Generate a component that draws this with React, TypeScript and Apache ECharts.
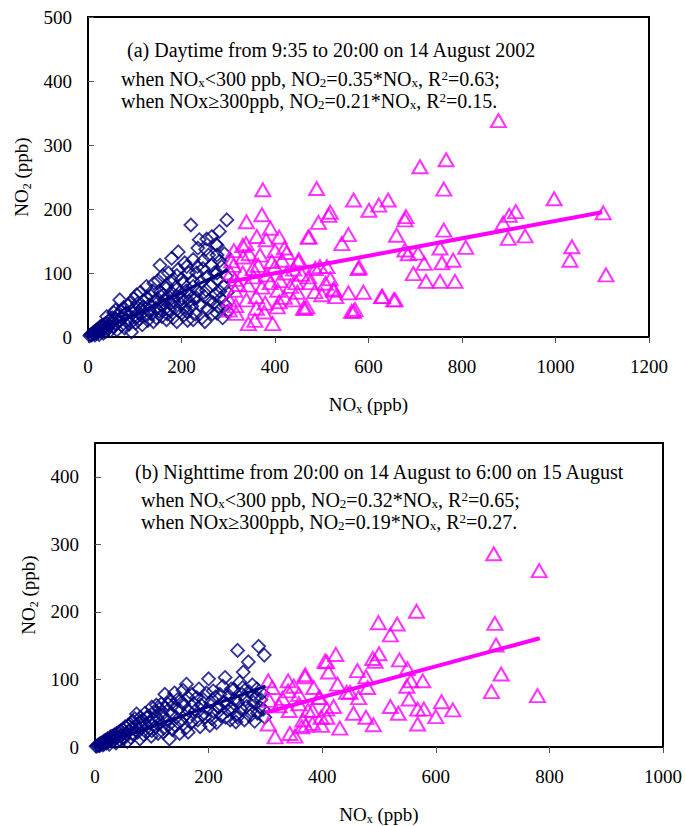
import React, { useEffect, useRef } from 'react';
import * as echarts from 'echarts';

const FONT = 'Liberation Serif, Times New Roman, serif';

// ---- (a) Daytime: NOx < 300 ppb (diamonds) [NOx, NO2]
const dayLow: number[][] = [
  [4,2],[6,4],[8,3],[10,6],[12,5],[14,8],[15,3],[17,10],[18,6],[20,12],[22,8],[24,4],[25,14],[26,16],[28,10],[30,18],[32,12],[33,6],[35,20],[36,15],[38,9],[40,32],[40,22],[42,14],[45,26],[46,18],[48,10],[50,24],[52,30],[54,16],[55,38],[58,20],[59,42],[60,28],[62,11],[64,34],[66,24],[68,58],[70,40],[72,18],[74,30],[76,46],[78,14],[80,36],[81,37],[84,26],[86,50],[88,20],[90,53],[92,40],[93,8],[95,30],[98,60],[100,45],[102,22],[104,66],[104,32],[106,52],[108,38],[110,28],[112,70],[114,44],[116,19],[118,47],[120,56],[122,34],[125,79],[126,62],[128,26],[130,42],[132,50],[135,64],[136,36],[138,72],[140,24],[141,84],[143,54],[145,45],[146,30],[148,60],[150,88],[152,40],[154,112],[155,70],[157,50],[158,32],[160,96],[161,66],[163,58],[165,44],[167,76],[168,81],[168,27],[170,36],[172,100],[174,62],[175,42],[176,52],[178,70],[179,123],[180,88],[182,30],[184,56],[186,46],[188,78],[190,96],[190,64],[190,24],[192,105],[193,133],[195,40],[197,70],[198,52],[200,90],[202,60],[204,84],[205,34],[207,116],[208,46],[210,72],[211,110],[211,40],[213,26],[215,100],[216,56],[218,64],[220,175],[222,48],[224,88],[225,121],[225,79],[225,27],[228,60],[230,36],[232,100],[232,61],[234,110],[235,139],[236,72],[238,152],[240,50],[242,86],[244,30],[246,107],[247,120],[248,64],[250,24],[252,137],[253,73],[254,153],[255,94],[256,44],[258,128],[260,58],[262,80],[264,112],[265,157],[266,36],[268,53],[270,100],[272,66],[274,145],[276,143],[276,128],[276,100],[276,37],[278,90],[280,48],[281,165],[282,119],[282,71],[284,60],[286,110],[288,30],[290,80],[292,130],[294,50],[296,95],[297,183],[298,70],[298,40]
];

// ---- (a) Daytime: NOx >= 300 ppb (triangles)
const dayHigh: number[][] = [
  [878,338],[766,277],[710,266],[761,231],[489,232],[374,230],[568,214],[601,198],[622,206],[642,214],[518,195],[515,190],[493,179],[372,191],[339,180],[471,156],[557,160],[543,146],[680,188],[678,183],[660,159],[761,167],[997,216],[915,196],[901,190],[888,178],[1102,194],[899,154],[935,158],[678,136],[685,130],[706,131],[753,139],[808,140],[1035,141],[1031,120],[1108,97],[719,115],[757,116],[781,120],[696,99],[723,87],[753,87],[785,87],[580,109],[511,110],[496,110],[525,75],[518,91],[557,69],[589,70],[630,63],[657,58],[568,40],[571,43],[500,66],[485,71],[468,47],[461,45],[475,85],
  [361,157],[409,156],[381,152],[338,146],[331,143],[473,156],[420,139],[425,132],[332,125],[311,112],[307,119],[368,128],[393,118],[400,110],[450,118],[486,107],[578,107],[331,100],[354,94],[382,97],[425,100],[457,98],[472,94],[314,90],[314,73],[343,81],[372,78],[406,73],[433,79],[526,73],[628,63],[654,58],[302,58],[316,49],[339,58],[360,63],[379,53],[409,55],[439,58],[464,45],[302,42],[317,37],[343,21],[357,26],[395,21],[405,47],[377,39],[564,40],[411,88],[440,106],[400,135],[451,121],[353,107],[508,84],[530,63],
  [312,135],[305,100],[322,82],[345,130],[390,170],[364,112],[415,120],[445,85],[390,85],[360,45],[420,62],[448,70]
];

// ---- (a) regression lines
const dayLowFit: number[][] = [[0, 0], [300, 105]];
const dayHighFit: number[][] = [[300, 86], [1100, 195]];

// ---- (b) Nighttime: NOx < 300 ppb (diamonds)
const nightLow: number[][] = [
  [2,1],[4,2],[6,3],[8,2],[9,5],[10,4],[12,6],[14,3],[15,8],[16,5],[18,10],[20,6],[22,12],[24,8],[25,4],[27,15],[28,11],[30,16],[32,9],[34,18],[35,13],[37,6],[38,20],[40,15],[42,22],[44,10],[45,24],[47,17],[49,26],[50,12],[51,15],[53,30],[55,20],[57,8],[58,32],[60,24],[62,34],[63,14],[65,28],[67,38],[68,19],[70,42],[72,30],[73,49],[75,22],[77,36],[79,12],[80,44],[82,29],[84,40],[86,18],[88,50],[90,33],[91,44],[93,24],[95,46],[97,36],[99,16],[100,59],[100,24],[102,40],[104,52],[106,30],[108,62],[109,44],[111,20],[113,56],[115,36],[117,64],[118,48],[120,22],[121,28],[123,78],[124,58],[126,40],[128,64],[129,32],[131,12],[132,70],[134,50],[136,26],[138,62],[140,80],[141,32],[143,44],[145,70],[147,56],[149,20],[151,38],[153,66],[155,84],[156,64],[158,46],[160,28],[161,93],[163,74],[164,22],[165,54],[167,44],[169,36],[171,78],[174,64],[177,54],[179,73],[181,40],[183,86],[185,30],[187,62],[189,48],[191,70],[194,44],[196,80],[198,56],[200,101],[202,32],[204,66],[206,42],[208,83],[210,52],[212,74],[214,36],[216,60],[218,59],[220,78],[222,46],[225,90],[227,66],[229,103],[230,44],[232,64],[234,54],[236,76],[238,40],[240,86],[242,58],[244,85],[246,70],[248,37],[250,48],[251,143],[251,44],[252,66],[255,96],[257,56],[259,78],[260,88],[261,111],[263,40],[265,70],[267,60],[270,126],[271,82],[273,46],[275,54],[277,92],[279,66],[281,38],[283,74],[285,86],[286,50],[288,149],[290,59],[292,70],[294,80],[296,56],[298,136],[299,44]
];

// ---- (b) Nighttime: NOx >= 300 ppb (triangles)
const nightHigh: number[][] = [
  [702,286],[782,261],[566,201],[499,184],[532,182],[520,166],[704,183],[706,151],[715,108],[698,82],[779,76],[424,137],[408,126],[411,111],[370,107],[493,127],[489,131],[536,129],[550,116],[462,113],[477,104],[556,98],[577,98],[549,90],[427,93],[449,81],[464,73],[553,71],[568,56],[579,56],[610,67],[630,55],[534,50],[477,44],[490,33],[568,34],[431,28],[408,56],[408,44],[399,32],[375,54],[371,32],[352,16],[396,73],[443,81],[500,138],
  [305,98],[340,98],[370,104],[405,127],[340,83],[359,78],[307,69],[324,61],[342,54],[359,64],[383,54],[394,73],[366,40],[383,35],[317,15],[343,20],[364,30],[398,44],[305,34],
  [312,88],[330,72],[350,90],[385,88],[420,60],[455,50],[480,88],[520,60],[600,45]
];

// ---- (b) regression lines
const nightLowFit: number[][] = [[0, 0], [300, 90]];
const nightHighFit: number[][] = [[300, 51], [783, 161]];

// ---- annotation texts (rich-text markup: n normal, s subscript, p superscript)
const dayTexts: string[] = [
  '{n|(a) Daytime from 9:35 to 20:00 on 14 August 2002}',
  '{n|when NO}{s|x}{n|<300 ppb, NO}{s|2}{n|=0.35*NO}{s|x}{n|, R}{p|2}{n|=0.63;}',
  '{n|when NOx≥300ppb, NO}{s|2}{n|=0.21*NO}{s|x}{n|, R}{p|2}{n|=0.15.}',
];
const nightTexts: string[] = [
  '{n|(b) Nighttime from 20:00 on 14 August to 6:00 on 15 August}',
  '{n|when NO}{s|x}{n|<300 ppb, NO}{s|2}{n|=0.32*NO}{s|x}{n|, R}{p|2}{n|=0.65;}',
  '{n|when NOx≥300ppb, NO}{s|2}{n|=0.19*NO}{s|x}{n|, R}{p|2}{n|=0.27.}',
];
const xName = '{n|NO}{s|x}{n| (ppb)}';
const yName = '{n|NO}{s|2}{n| (ppb)}';

const base = { fontFamily: FONT, fontWeight: 'normal', color: '#000' };
const richText = {
  n: { ...base, fontSize: 20, lineHeight: 20 },
  s: { ...base, fontSize: 13, lineHeight: 10, verticalAlign: 'bottom' },
  p: { ...base, fontSize: 13, lineHeight: 12, verticalAlign: 'top' },
};
const richAxis = {
  n: { ...base, fontSize: 19, lineHeight: 22 },
  s: { ...base, fontSize: 12, lineHeight: 12, verticalAlign: 'bottom' },
};

function makeTitles(lines: string[], lefts: number[], tops: number[]) {
  return lines.map((t, i) => ({
    text: t,
    left: lefts[i],
    top: tops[i],
    padding: 0,
    textStyle: { ...base, fontSize: 20, rich: richText },
  }));
}

const tickFmt = (v: number) => String(v);

function xAxisCfg(gridIndex: number, max: number) {
  return {
    type: 'value', gridIndex, min: 0, max, interval: 200,
    name: xName, nameLocation: 'middle', nameGap: 56,
    nameTextStyle: { ...base, fontSize: 19, rich: richAxis },
    axisLine: { show: true, lineStyle: { color: '#000', width: 2 } },
    axisTick: { show: true, inside: false, length: 6, lineStyle: { color: '#555', width: 1 } },
    axisLabel: { margin: 20, fontSize: 19, fontFamily: FONT, color: '#000', formatter: tickFmt },
    splitLine: { show: false },
  };
}
function yAxisCfg(gridIndex: number, max: number, showMax: boolean) {
  return {
    type: 'value', gridIndex, min: 0, max, interval: 100,
    name: yName, nameLocation: 'middle', nameGap: 55, nameRotate: 90,
    nameTextStyle: { ...base, fontSize: 19, rich: richAxis },
    axisLine: { show: true, lineStyle: { color: '#000', width: 2 } },
    axisTick: { show: true, inside: true, length: 6, lineStyle: { color: '#555', width: 1 } },
    axisLabel: { margin: 16, fontSize: 19, fontFamily: FONT, color: '#000', showMaxLabel: showMax, formatter: tickFmt },
    splitLine: { show: false },
  };
}

const diamondStyle = { color: 'rgba(0,0,0,0)', borderColor: '#000080', borderWidth: 1.8 };
const triStyle = { color: 'rgba(0,0,0,0)', borderColor: '#FF00FF', borderWidth: 2 };

const option = {
  animation: false,
  backgroundColor: '#fff',
  title: [
    ...makeTitles(dayTexts, [127, 121, 121], [40, 69, 91]),
    ...makeTitles(nightTexts, [135, 141, 141], [462, 490, 512]),
  ],
  grid: [
    { left: 88, top: 17, width: 561, height: 320, show: true, borderColor: '#000', borderWidth: 2 },
    { left: 95, top: 443, width: 568, height: 307, show: true, borderColor: '#000', borderWidth: 2 },
  ],
  xAxis: [xAxisCfg(0, 1200), xAxisCfg(1, 1000)],
  yAxis: [yAxisCfg(0, 500, true), yAxisCfg(1, 450, false)],
  series: [
    { type: 'scatter', xAxisIndex: 0, yAxisIndex: 0, data: dayLow, symbol: 'diamond', symbolSize: 13, itemStyle: diamondStyle, silent: true },
    { type: 'scatter', xAxisIndex: 0, yAxisIndex: 0, data: dayHigh, symbol: 'triangle', symbolSize: [15, 13], itemStyle: triStyle, silent: true },
    { type: 'line', xAxisIndex: 0, yAxisIndex: 0, data: dayLowFit, showSymbol: false, lineStyle: { color: '#000080', width: 3 }, silent: true },
    { type: 'line', xAxisIndex: 0, yAxisIndex: 0, data: dayHighFit, showSymbol: false, lineStyle: { color: '#FF00FF', width: 4 }, silent: true },
    { type: 'scatter', xAxisIndex: 1, yAxisIndex: 1, data: nightLow, symbol: 'diamond', symbolSize: 13, itemStyle: diamondStyle, silent: true },
    { type: 'scatter', xAxisIndex: 1, yAxisIndex: 1, data: nightHigh, symbol: 'triangle', symbolSize: [15, 13], itemStyle: triStyle, silent: true },
    { type: 'line', xAxisIndex: 1, yAxisIndex: 1, data: nightLowFit, showSymbol: false, lineStyle: { color: '#000080', width: 3 }, silent: true },
    { type: 'line', xAxisIndex: 1, yAxisIndex: 1, data: nightHighFit, showSymbol: false, lineStyle: { color: '#FF00FF', width: 4 }, silent: true },
  ],
};

export default function App() {
  const ref = useRef<HTMLDivElement>(null);
  useEffect(() => {
    document.body.style.margin = '0';
    const chart = echarts.init(ref.current as HTMLDivElement, null, { renderer: 'svg' });
    chart.setOption(option as any);
    return () => chart.dispose();
  }, []);
  return <div ref={ref} style={{ width: 685, height: 826 }} />;
}
